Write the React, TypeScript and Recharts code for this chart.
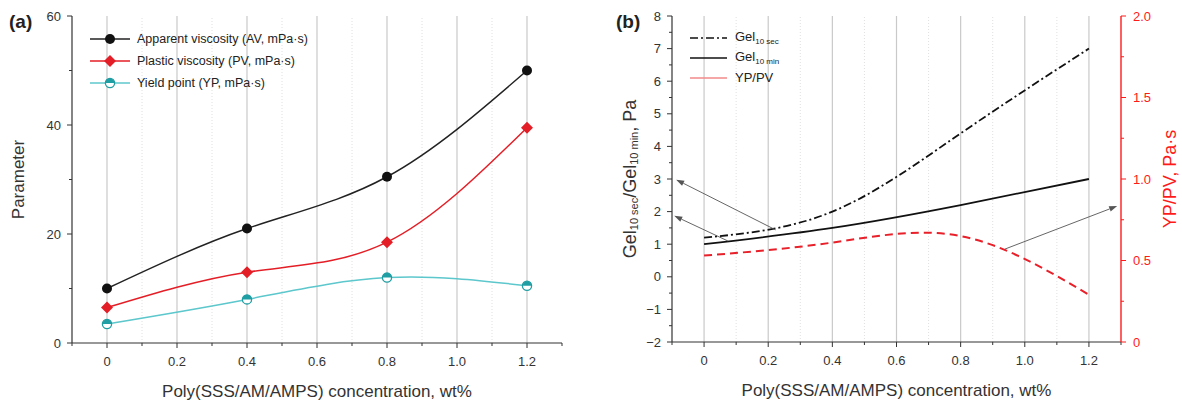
import React from 'react';
import { LineChart, Line, XAxis, YAxis, ReferenceLine, Legend } from 'recharts';

// polymer concentration, wt%
const concentration = [0, 0.4, 0.8, 1.2];

// panel (a), mPa·s
const apparentViscosity = [10, 21, 30.5, 50];
const plasticViscosity = [6.5, 13, 18.5, 39.5];
const yieldPoint = [3.5, 8, 12, 10.5];

// panel (b)
const gel10sec = [1.2, 2.0, 4.4, 7.0];
const gel10min = [1.0, 1.5, 2.2, 3.0];
const ypPvRatio = [0.53, 0.61, 0.65, 0.29];

const xTicks = [-0.1, 0, 0.1, 0.2, 0.3, 0.4, 0.5, 0.6, 0.7, 0.8, 0.9, 1.0, 1.1, 1.2, 1.3];
const gridMajor = [0, 0.2, 0.4, 0.6, 0.8, 1.0, 1.2];
const gridMinor = [0.1, 0.3, 0.5, 0.7, 0.9, 1.1];
const paramTicks = [0, 10, 20, 30, 40, 50, 60];
const gelTicks = [-2, -1.5, -1, -0.5, 0, 0.5, 1, 1.5, 2, 2.5, 3, 3.5, 4, 4.5, 5, 5.5, 6, 6.5, 7, 7.5, 8];
const ratioTicks = [0, 0.25, 0.5, 0.75, 1, 1.25, 1.5, 1.75, 2];

// arrows in panel (b): from -> to, in data units of the given axis
const arrows = [
  { from: [0.223, 1.44], to: [-0.087, 2.98], axis: 'gel' },
  { from: [0.074, 1.1], to: [-0.093, 1.87], axis: 'gel' },
  { from: [0.938, 0.57], to: [1.288, 0.834], axis: 'ratio' },
];

const FONT = '"Liberation Sans", Arial, sans-serif';
const INK = '#333';
const RED = '#ff1a1a';

const dataA = concentration.map((c, i) => ({
  c,
  av: apparentViscosity[i],
  pv: plasticViscosity[i],
  yp: yieldPoint[i],
}));

const dataB = concentration.map((c, i) => ({
  c,
  g10s: gel10sec[i],
  g10m: gel10min[i],
  ratio: ypPvRatio[i],
}));

const onStep = (v: number, step: number) => Math.abs(v / step - Math.round(v / step)) < 1e-6;
const fmt1 = (v: number) => (v === 0 ? '0' : v.toFixed(1));
const fmtInt = (v: number) => (v < 0 ? '\u2212' + Math.abs(v) : String(v));

const BottomTick = (props: any) => {
  const { x, y, payload } = props;
  const v = payload.value;
  const major = onStep(v, 0.2) && v >= 0 && v <= 1.2;
  return (
    <g>
      <line x1={x} x2={x} y1={y} y2={y + (major ? 5 : 3)} stroke={INK} />
      {major && (
        <text x={x} y={y + 18} textAnchor="middle" dominantBaseline="central" fontSize={13} fill={INK} fontFamily={FONT}>
          {fmt1(v)}
        </text>
      )}
    </g>
  );
};

const makeLeftTick = (step: number, format: (v: number) => string, color: string) => (props: any) => {
  const { x, y, payload } = props;
  const v = payload.value;
  const major = onStep(v, step);
  return (
    <g>
      <line x1={x} x2={x - (major ? 5 : 3)} y1={y} y2={y} stroke={color} />
      {major && (
        <text x={x - 11} y={y} textAnchor="end" dominantBaseline="central" fontSize={13} fill={color} fontFamily={FONT}>
          {format(v)}
        </text>
      )}
    </g>
  );
};

const RatioTick = (props: any) => {
  const { x, y, payload } = props;
  const v = payload.value;
  const major = onStep(v, 0.5);
  return (
    <g>
      <line x1={x} x2={x + (major ? 5 : 3)} y1={y} y2={y} stroke={RED} />
      {major && (
        <text x={x + 12} y={y} textAnchor="start" dominantBaseline="central" fontSize={13} fill={RED} fontFamily={FONT}>
          {fmt1(v)}
        </text>
      )}
    </g>
  );
};

const ParamTick = makeLeftTick(20, (v) => String(v), INK);
const GelTick = makeLeftTick(1, fmtInt, INK);

const XTitle = ({ viewBox }: any) => (
  <text x={viewBox.x + viewBox.width / 2} y={viewBox.y + 48} textAnchor="middle" dominantBaseline="central" fontSize={17} fill={INK} fontFamily={FONT}>
    Poly(SSS/AM/AMPS) concentration, wt%
  </text>
);

const ParamTitle = ({ viewBox }: any) => {
  const x = viewBox.x + 18;
  const y = viewBox.y + viewBox.height / 2;
  return (
    <text x={x} y={y} transform={`rotate(-90, ${x}, ${y})`} textAnchor="middle" dominantBaseline="central" fontSize={17} fill={INK} fontFamily={FONT}>
      Parameter
    </text>
  );
};

const GelTitle = ({ viewBox }: any) => {
  const x = viewBox.x + 50;
  const y = viewBox.y + viewBox.height / 2;
  return (
    <text x={x} y={y} transform={`rotate(-90, ${x}, ${y})`} textAnchor="middle" dominantBaseline="central" fontSize={18} fill={INK} fontFamily={FONT}>
      Gel<tspan fontSize={11} dy={4}>10 sec</tspan>
      <tspan dy={-4}>/Gel</tspan>
      <tspan fontSize={11} dy={4}>10 min</tspan>
      <tspan dy={-4}>, Pa</tspan>
    </text>
  );
};

const RatioTitle = ({ viewBox }: any) => {
  const x = viewBox.x + 49;
  const y = viewBox.y + viewBox.height / 2;
  return (
    <text x={x} y={y} transform={`rotate(-90, ${x}, ${y})`} textAnchor="middle" dominantBaseline="central" fontSize={18} fill={RED} fontFamily={FONT}>
      YP/PV, Pa·s
    </text>
  );
};

const AvDot = (p: any) => <circle cx={p.cx} cy={p.cy} r={5} fill="#111" />;
const PvDot = (p: any) => (
  <path d={`M${p.cx},${p.cy - 6}L${p.cx + 6},${p.cy}L${p.cx},${p.cy + 6}L${p.cx - 6},${p.cy}Z`} fill="#e41e26" />
);
const YpDot = (p: any) => (
  <g>
    <circle cx={p.cx} cy={p.cy} r={4.6} fill="#fff" stroke="#1f9ea3" strokeWidth={1.3} />
    <path d={`M${p.cx - 4.6},${p.cy}A4.6,4.6 0 0 1 ${p.cx + 4.6},${p.cy}Z`} fill="#1f9ea3" />
  </g>
);

const seriesA = [
  { key: 'av', name: 'Apparent viscosity (AV, mPa·s)', color: '#222', Dot: AvDot },
  { key: 'pv', name: 'Plastic viscosity (PV, mPa·s)', color: '#e41e26', Dot: PvDot },
  { key: 'yp', name: 'Yield point (YP, mPa·s)', color: '#5cc7cc', Dot: YpDot },
];

const LegendA = () => (
  <div style={{ fontFamily: FONT, fontSize: 12.5, color: '#222' }}>
    {seriesA.map((s) => (
      <div key={s.key} style={{ display: 'flex', alignItems: 'center', height: 22 }}>
        <svg width={42} height={14}>
          <line x1={1} x2={41} y1={7} y2={7} stroke={s.color} strokeWidth={1.6} />
          <s.Dot cx={21} cy={7} />
        </svg>
        <span style={{ marginLeft: 6 }}>{s.name}</span>
      </div>
    ))}
  </div>
);

const legendB = [
  { key: 'g10s', sub: '10 sec', dash: '8 3 2 3', color: '#111' },
  { key: 'g10m', sub: '10 min', dash: undefined, color: '#111' },
  { key: 'ratio', sub: '', dash: undefined, color: '#f28a8a' },
];

const LegendB = () => (
  <div style={{ fontFamily: FONT, fontSize: 13, color: '#222' }}>
    {legendB.map((s) => (
      <div key={s.key} style={{ display: 'flex', alignItems: 'center', height: 20, lineHeight: '14px' }}>
        <svg width={38} height={10}>
          <line x1={0} x2={37} y1={5} y2={5} stroke={s.color} strokeWidth={1.6} strokeDasharray={s.dash} />
        </svg>
        <span style={{ marginLeft: 7, whiteSpace: 'nowrap' }}>
          {s.key === 'ratio' ? (
            'YP/PV'
          ) : (
            <>
              Gel<span style={{ fontSize: 8, position: 'relative', top: 3 }}>{s.sub}</span>
            </>
          )}
        </span>
      </div>
    ))}
  </div>
);

const ArrowShape = (props: any) => {
  const { x1, y1, x2, y2 } = props;
  const ang = Math.atan2(y2 - y1, x2 - x1);
  const L = 8;
  const W = 2.8;
  const bx = x2 - L * Math.cos(ang);
  const by = y2 - L * Math.sin(ang);
  const px = -Math.sin(ang) * W;
  const py = Math.cos(ang) * W;
  return (
    <g>
      <line x1={x1} y1={y1} x2={bx} y2={by} stroke="#555" strokeWidth={0.9} />
      <path d={`M${x2},${y2}L${bx + px},${by + py}L${bx - px},${by - py}Z`} fill="#555" />
    </g>
  );
};

const gridLines = (yAxisId: string | number) => [
  ...gridMajor.map((v) => (
    <ReferenceLine key={`gM${v}`} x={v} yAxisId={yAxisId} stroke="#c9c9c9" strokeWidth={1.2} />
  )),
  ...gridMinor.map((v) => (
    <ReferenceLine key={`gm${v}`} x={v} yAxisId={yAxisId} stroke="#e0e0e0" strokeDasharray="1 2" />
  )),
];

const panelLabel = (left: number): React.CSSProperties => ({
  position: 'absolute',
  left,
  top: 10,
  fontFamily: FONT,
  fontWeight: 'bold',
  fontSize: 19,
  color: '#222',
  lineHeight: '24px',
});

export default function App() {
  return (
    <div style={{ position: 'absolute', left: 0, top: 0, width: 1182, height: 403, background: '#fff' }}>
      <div style={{ position: 'absolute', left: 0, top: 0 }}>
        <LineChart width={580} height={403} data={dataA} margin={{ top: 16, right: 18, left: 0, bottom: 0 }}>
          <XAxis
            dataKey="c"
            type="number"
            domain={[-0.1, 1.3]}
            ticks={xTicks}
            interval={0}
            tickSize={0}
            tickMargin={0}
            tickLine={false}
            tick={BottomTick}
            height={60}
            axisLine={{ stroke: INK, strokeWidth: 1.2 }}
            label={<XTitle />}
          />
          <XAxis xAxisId="top" dataKey="c" type="number" domain={[-0.1, 1.3]} orientation="top" height={0} tick={false} tickLine={false} axisLine={{ stroke: INK, strokeWidth: 1.2 }} />
          <YAxis
            type="number"
            domain={[0, 60]}
            ticks={paramTicks}
            interval={0}
            width={72}
            tickSize={0}
            tickMargin={0}
            tickLine={false}
            tick={ParamTick}
            axisLine={{ stroke: INK, strokeWidth: 1.2 }}
            label={<ParamTitle />}
          />
          <YAxis yAxisId="right" orientation="right" width={0} domain={[0, 60]} tick={false} tickLine={false} axisLine={{ stroke: INK, strokeWidth: 1.2 }} />
          {gridLines(0)}
          <Legend layout="vertical" align="center" verticalAlign="middle" wrapperStyle={{ top: 28, left: 89, width: 'auto' }} content={() => <LegendA />} />
          {seriesA.map((s) => (
            <Line
              key={s.key}
              type="natural"
              dataKey={s.key}
              name={s.name}
              stroke={s.color}
              strokeWidth={1.5}
              dot={(p: any) => <s.Dot key={`${s.key}${p.index}`} cx={p.cx} cy={p.cy} />}
              isAnimationActive={false}
            />
          ))}
        </LineChart>
      </div>
      <div style={{ position: 'absolute', left: 580, top: 0 }}>
        <LineChart width={602} height={403} data={dataB} margin={{ top: 16, right: 0, left: 0, bottom: 0 }}>
          <XAxis
            dataKey="c"
            type="number"
            domain={[-0.1, 1.3]}
            ticks={xTicks}
            interval={0}
            tickSize={0}
            tickMargin={0}
            tickLine={false}
            tick={BottomTick}
            height={61}
            axisLine={{ stroke: INK, strokeWidth: 1.2 }}
            label={<XTitle />}
          />
          <XAxis xAxisId="top" dataKey="c" type="number" domain={[-0.1, 1.3]} orientation="top" height={0} tick={false} tickLine={false} axisLine={{ stroke: INK, strokeWidth: 1.2 }} />
          <YAxis
            yAxisId="gel"
            type="number"
            domain={[-2, 8]}
            ticks={gelTicks}
            interval={0}
            width={92}
            tickSize={0}
            tickMargin={0}
            tickLine={false}
            tick={GelTick}
            axisLine={{ stroke: INK, strokeWidth: 1.2 }}
            label={<GelTitle />}
          />
          <YAxis
            yAxisId="ratio"
            orientation="right"
            type="number"
            domain={[0, 2]}
            ticks={ratioTicks}
            interval={0}
            width={61}
            tickSize={0}
            tickMargin={0}
            tickLine={false}
            tick={RatioTick}
            axisLine={{ stroke: RED, strokeWidth: 1.4 }}
            label={<RatioTitle />}
          />
          {gridLines('gel')}
          <Legend layout="vertical" align="center" verticalAlign="middle" wrapperStyle={{ top: 28, left: 110, width: 'auto' }} content={() => <LegendB />} />
          <Line yAxisId="gel" type="natural" dataKey="g10s" stroke="#111" strokeWidth={1.8} strokeDasharray="8 3 2 3" dot={false} isAnimationActive={false} />
          <Line yAxisId="gel" type="natural" dataKey="g10m" stroke="#111" strokeWidth={1.8} dot={false} isAnimationActive={false} />
          <Line yAxisId="ratio" type="natural" dataKey="ratio" stroke="#e8202a" strokeWidth={2} strokeDasharray="8 5" dot={false} isAnimationActive={false} />
          {arrows.map((a, i) => (
            <ReferenceLine
              key={`arrow${i}`}
              yAxisId={a.axis}
              segment={[
                { x: a.from[0], y: a.from[1] },
                { x: a.to[0], y: a.to[1] },
              ]}
              ifOverflow="visible"
              shape={ArrowShape}
            />
          ))}
        </LineChart>
      </div>
      <div style={panelLabel(9)}>(a)</div>
      <div style={panelLabel(616)}>(b)</div>
    </div>
  );
}
